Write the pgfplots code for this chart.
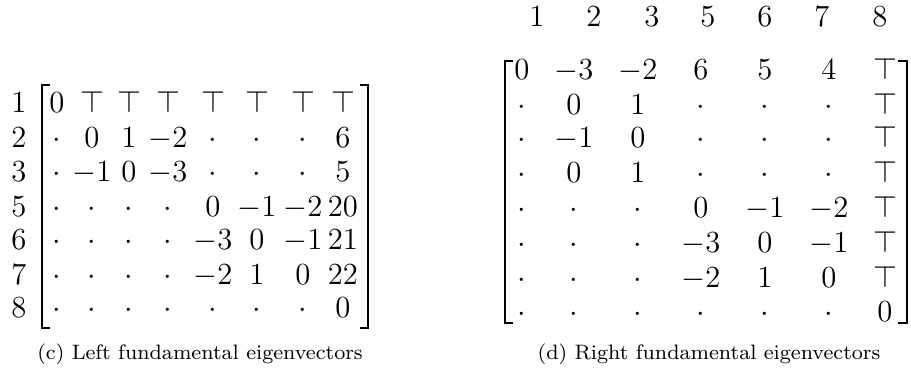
\documentclass[border=0pt]{standalone}
\usepackage{pgfplots}
\pgfplotsset{compat=1.18}

\begin{document}
\begin{tikzpicture}
\begin{axis}[
    hide axis,
    scale only axis,
    width=355.9pt, height=146.1pt,
    xmin=0, xmax=911, ymin=0, ymax=374,
    clip=false,
    entries/.style={
        draw=none, mark=none,
        point meta=explicit symbolic,
        nodes near coords={$\pgfplotspointmeta$},
        nodes near coords style={anchor=base, inner sep=0pt,
            font=\fontsize{12}{14}\selectfont},
    },
]
% keep the whole canvas as the picture's bounding box
\path (axis cs:0,0) rectangle (axis cs:911,374);

% left fundamental eigenvectors (row labels at x=19)
\addplot[entries] coordinates {
  (19,261)[1] (19,226)[2] (19,192)[3] (19,157)[5] (19,124)[6] (19,89)[7] (19,56)[8]
  (57,261)[0] (92,261)[\top] (129,261)[\top] (168,261)[\top] (213,261)[\top] (257,261)[\top] (303,261)[\top] (343,261)[\top]
  (57,226)[\cdot] (92,226)[0] (129,226)[1] (168,226)[-2] (213,226)[\cdot] (257,226)[\cdot] (303,226)[\cdot] (343,226)[6]
  (57,192)[\cdot] (92,192)[-1] (129,192)[0] (168,192)[-3] (213,192)[\cdot] (257,192)[\cdot] (303,192)[\cdot] (343,192)[5]
  (57,157)[\cdot] (92,157)[\cdot] (129,157)[\cdot] (168,157)[\cdot] (213,157)[0] (257,157)[-1] (303,157)[-2] (343,157)[20]
  (57,124)[\cdot] (92,124)[\cdot] (129,124)[\cdot] (168,124)[\cdot] (213,124)[-3] (257,124)[0] (303,124)[-1] (343,124)[21]
  (57,89)[\cdot] (92,89)[\cdot] (129,89)[\cdot] (168,89)[\cdot] (213,89)[-2] (257,89)[1] (303,89)[0] (343,89)[22]
  (57,56)[\cdot] (92,56)[\cdot] (129,56)[\cdot] (168,56)[\cdot] (213,56)[\cdot] (257,56)[\cdot] (303,56)[\cdot] (343,56)[0]
};
% right fundamental eigenvectors (column labels at y=347)
\addplot[entries] coordinates {
  (537,347)[1] (594,347)[2] (652,347)[3] (708,347)[5] (765,347)[6] (822,347)[7] (880,347)[8]
  (522,294)[0] (574,294)[-3] (638,294)[-2] (701,294)[6] (765,294)[5] (829,294)[4] (885,294)[\top]
  (522,259)[\cdot] (574,259)[0] (638,259)[1] (701,259)[\cdot] (765,259)[\cdot] (829,259)[\cdot] (885,259)[\top]
  (522,226)[\cdot] (574,226)[-1] (638,226)[0] (701,226)[\cdot] (765,226)[\cdot] (829,226)[\cdot] (885,226)[\top]
  (522,191)[\cdot] (574,191)[0] (638,191)[1] (701,191)[\cdot] (765,191)[\cdot] (829,191)[\cdot] (885,191)[\top]
  (522,156)[\cdot] (574,156)[\cdot] (638,156)[\cdot] (701,156)[0] (765,156)[-1] (829,156)[-2] (885,156)[\top]
  (522,121)[\cdot] (574,121)[\cdot] (638,121)[\cdot] (701,121)[-3] (765,121)[0] (829,121)[-1] (885,121)[\top]
  (522,86)[\cdot] (574,86)[\cdot] (638,86)[\cdot] (701,86)[-2] (765,86)[1] (829,86)[0] (885,86)[\top]
  (522,52)[\cdot] (574,52)[\cdot] (638,52)[\cdot] (701,52)[\cdot] (765,52)[\cdot] (829,52)[\cdot] (885,52)[0]
};

% brackets
\draw[line width=0.5pt] (axis cs:50,289) -- (axis cs:42,289) -- (axis cs:42,46) -- (axis cs:50,46);
\draw[line width=0.5pt] (axis cs:360,289) -- (axis cs:368,289) -- (axis cs:368,46) -- (axis cs:360,46);
\draw[line width=0.5pt] (axis cs:513,313) -- (axis cs:505,313) -- (axis cs:505,51) -- (axis cs:513,51);
\draw[line width=0.5pt] (axis cs:898,313) -- (axis cs:907,313) -- (axis cs:907,51) -- (axis cs:898,51);

% captions
\node[anchor=base, inner sep=0pt, font=\fontsize{8.15}{10}\selectfont] at (axis cs:200,14) {(c) Left fundamental eigenvectors};
\node[anchor=base, inner sep=0pt, font=\fontsize{8.15}{10}\selectfont] at (axis cs:709,14) {(d) Right fundamental eigenvectors};
\end{axis}
\end{tikzpicture}
\end{document}
